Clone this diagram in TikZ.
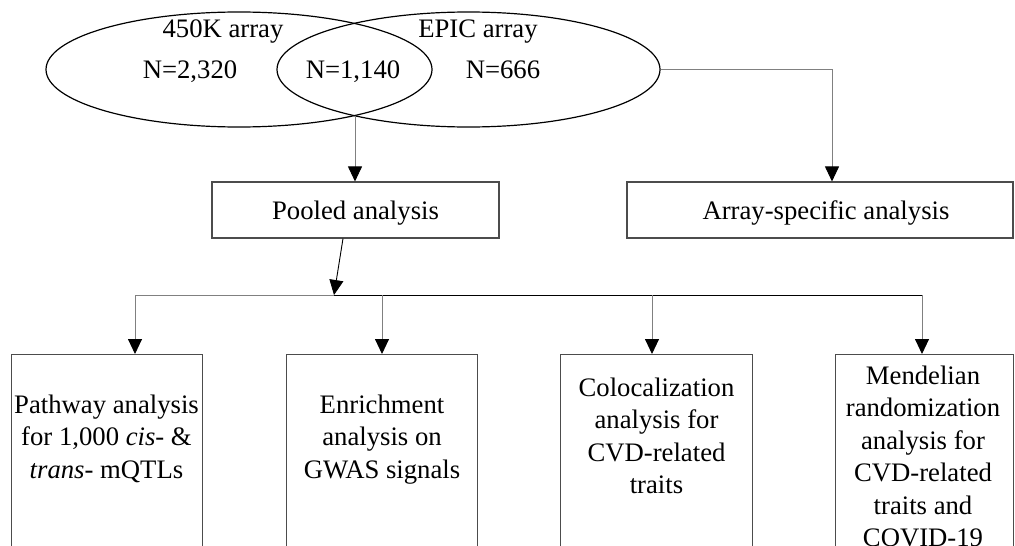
\documentclass[tikz,border=0pt]{standalone}
\usepackage{fontspec}
\setmainfont{Liberation Serif}
\usetikzlibrary{shapes.geometric,arrows.meta}
\begin{document}
\begin{tikzpicture}[x=1pt,y=-1pt,
  conn/.style={draw=black!50, line width=0.9pt},
  darkconn/.style={draw=black, line width=0.9pt},
  tip/.style={-{Triangle[length=15pt,width=14pt,black]}},
  boxstyle/.style={draw=black!70, line width=1.1pt, rectangle, inner sep=0pt},
  ell/.style={draw=black, line width=1.2pt, ellipse, inner sep=0pt},
  lbl/.style={font=\fontsize{26.7}{32.5}\selectfont, align=center, inner sep=0pt}
]
\useasboundingbox (0,0) rectangle (1015,546);
\clip (0,0) rectangle (1015,546);

% Venn ellipses
\node[ell, minimum width=386pt, minimum height=115pt] (e1) at (239,69.5) {};
\node[ell, minimum width=383pt, minimum height=115pt] (e2) at (468.5,69.5) {};

\node[lbl, anchor=base] (t450) at (223,37) {450K array};
\node[lbl, anchor=base] (tepic) at (478,37) {EPIC array};
\node[lbl, anchor=base] (n1) at (190,78) {N=2,320};
\node[lbl, anchor=base] (n2) at (353,78) {N=1,140};
\node[lbl, anchor=base] (n3) at (503,78) {N=666};

% middle boxes
\node[boxstyle, minimum width=287pt, minimum height=56pt] (pooled) at (355.5,210) {};
\node[lbl, anchor=base] (tpooled) at (355.5,219.5) {Pooled analysis};
\node[boxstyle, minimum width=386pt, minimum height=56pt] (array) at (820,210) {};
\node[lbl, anchor=base] (tarray) at (826,219.5) {Array-specific analysis};

% bottom boxes
\node[boxstyle, minimum width=191pt, minimum height=250pt, anchor=north west] (b1) at (11,354) {};
\node[boxstyle, minimum width=191pt, minimum height=250pt, anchor=north west] (b2) at (286,354) {};
\node[boxstyle, minimum width=192pt, minimum height=250pt, anchor=north west] (b3) at (560,354) {};
\node[boxstyle, minimum width=178pt, minimum height=250pt, anchor=north west] (b4) at (835,354) {};

\node[lbl, anchor=north] (tb1) at (106.5,390.25) {\strut Pathway analysis\\for 1,000 \textit{cis}- \&\\\textit{trans}- mQTLs};
\node[lbl, anchor=north] (tb2) at (382,390.25) {\strut Enrichment\\analysis on\\GWAS signals};
\node[lbl, anchor=north] (tb3) at (656.5,373.5) {\strut Colocalization\\analysis for\\CVD-related\\traits};
\node[lbl, anchor=north] (tb4) at (923,361.25) {\strut Mendelian\\randomization\\analysis for\\CVD-related\\traits and\\COVID-19};

% connectors
\coordinate (lensb) at (355,115.7);
\draw[conn,tip] (lensb) -- (lensb |- pooled.north);
\draw[conn,tip] (e2.east) -| ([xshift=12pt]array.north);

\coordinate (hub) at (334,295);
\coordinate (hl) at (135,295);
\coordinate (hr) at (922,295);
\coordinate (h2) at (382,295);
\coordinate (h3) at (652,295);
\draw[conn] (hl) -- (hub);
\draw[darkconn] (hub) -- (hr);
\draw[darkconn,tip] ([xshift=-12.5pt]pooled.south) -- (hub);

\draw[conn,tip] (hl) -- (hl |- b1.north);
\draw[conn,tip] (h2) -- (h2 |- b2.north);
\draw[conn,tip] (h3) -- (h3 |- b3.north);
\draw[conn,tip] (hr) -- (hr |- b4.north);
\end{tikzpicture}
\end{document}
